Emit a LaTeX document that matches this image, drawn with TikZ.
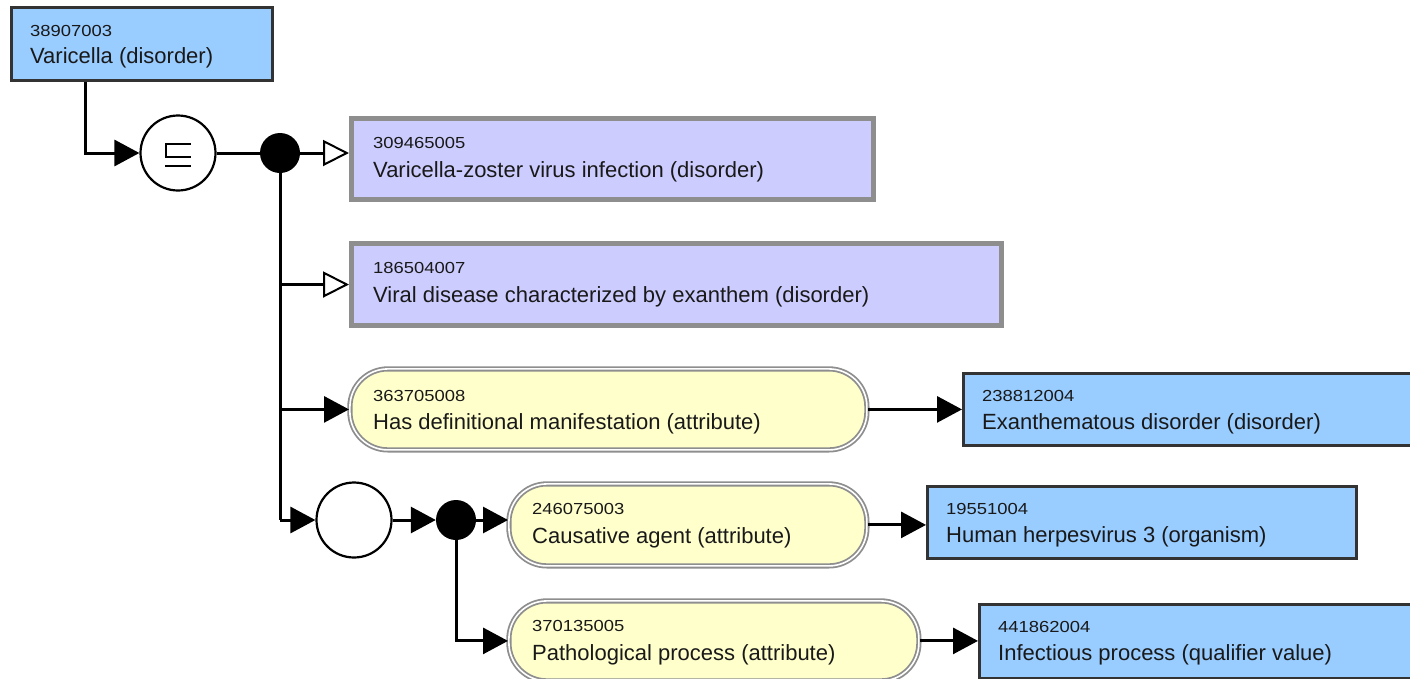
\documentclass[tikz,border=0pt]{standalone}
\usepackage{fontspec}
\setmainfont{Liberation Sans}
\newfontfamily\numfont[FakeStretch=1.15]{Liberation Sans}
\usetikzlibrary{arrows.meta,calc}
\definecolor{conceptblue}{HTML}{99CCFF}
\definecolor{primpurple}{HTML}{CCCCFF}
\definecolor{attryellow}{HTML}{FFFFCC}
\definecolor{darkborder}{HTML}{333333}
\definecolor{grayborder}{HTML}{8E8E8E}
\tikzset{
  bluebox/.style={draw=darkborder, line width=3pt, fill=conceptblue, rectangle, anchor=north west, inner sep=0pt},
  purplebox/.style={draw=grayborder, line width=5pt, fill=primpurple, rectangle, anchor=north west, inner sep=0pt},
  yellowbox/.style={draw=grayborder, double=white, double distance=1.6pt, line width=1.8pt, fill=attryellow, rectangle, rounded corners=38pt, anchor=north west, inner sep=0pt},
  opcircle/.style={draw=black, line width=2.2pt, fill=white, circle, minimum size=75pt, inner sep=0pt},
  dotnode/.style={fill=black, circle, minimum size=40pt, inner sep=0pt},
  numtext/.style={font=\numfont\fontsize{16pt}{18pt}\selectfont, anchor=base west, inner sep=0pt, text=black!90},
  nametext/.style={font=\fontsize{22pt}{26pt}\selectfont, anchor=base west, inner sep=0pt, text=black!90},
  plainline/.style={line width=3pt},
  conn/.style={line width=3pt, -{Triangle[length=25pt,width=26pt]}},
  isaconn/.style={line width=3pt, -{Triangle[open,length=26pt,width=26pt,line width=2pt,fill=white]}},
}
\newcommand\boxlabel[6]{%
  \node[numtext] (#1num) at ([shift={(#2,#3)}]#1.north west) {#5};
  \node[nametext] (#1name) at ([shift={(#2,#4)}]#1.north west) {#6};
}
\begin{document}
\begin{tikzpicture}[x=1pt,y=-1pt]
\path[use as bounding box, clip] (0,0) rectangle (1410,678);
\fill[white] (0,0) rectangle (1410,678);

% concept boxes
\node[bluebox, minimum width=261pt, minimum height=73pt] (v0) at (10,6) {};
\node[purplebox, minimum width=522pt, minimum height=81pt] (p1) at (349,116) {};
\node[purplebox, minimum width=650pt, minimum height=82pt] (p2) at (349,241) {};
\node[yellowbox, minimum width=517pt, minimum height=81pt] (y1) at (349,368) {};
\node[bluebox, minimum width=480pt, minimum height=72pt] (b1) at (962,372) {};
\node[yellowbox, minimum width=358pt, minimum height=82pt] (y2) at (508,483) {};
\node[bluebox, minimum width=429pt, minimum height=72pt] (b2) at (926,485) {};
\node[yellowbox, minimum width=410pt, minimum height=80pt] (y3) at (508,600) {};
\node[bluebox, minimum width=460pt, minimum height=74pt] (b3) at (978,603) {};

% labels
\boxlabel{v0}{20}{30}{57}{38907003}{Varicella (disorder)}
\boxlabel{p1}{24}{32}{61}{309465005}{Varicella-zoster virus infection (disorder)}
\boxlabel{p2}{24}{32}{61}{186504007}{Viral disease characterized by exanthem (disorder)}
\boxlabel{y1}{24}{33}{61}{363705008}{Has definitional manifestation (attribute)}
\boxlabel{b1}{20}{29}{57}{238812004}{Exanthematous disorder (disorder)}
\boxlabel{y2}{24}{31}{60}{246075003}{Causative agent (attribute)}
\boxlabel{b2}{20}{29}{57}{19551004}{Human herpesvirus 3 (organism)}
\boxlabel{y3}{24}{31}{60}{370135005}{Pathological process (attribute)}
\boxlabel{b3}{20}{29}{57}{441862004}{Infectious process (qualifier value)}

% operators
\node[opcircle] (sq) at (178,153) {};
\draw[line width=2.6pt] ([shift={(13,-9)}]sq.center) -- ([shift={(-12,-9)}]sq.center)
  -- ([shift={(-12,4)}]sq.center) -- ([shift={(13,4)}]sq.center);
\draw[line width=2.6pt] ([shift={(-13,13)}]sq.center) -- ([shift={(13,13)}]sq.center);
\node[dotnode] (d1) at (280,153) {};
\node[opcircle] (ec) at (354,520) {};
\node[dotnode] (d2) at (456,520) {};

% connectors
\draw[conn] ([xshift=75pt]v0.south west) |- (sq.west);
\draw[plainline] (sq.east) -- (d1.west);
\draw[isaconn] (d1.east) -- (d1.east -| p1.west);
\draw[plainline] (d1.center) -- (d1 |- ec.west);
\draw[isaconn] (d1 |- p2.west) -- (p2.west);
\draw[conn] (d1 |- y1.west) -- (y1.west);
\draw[conn] (d1 |- ec.west) -- (ec.west);
\draw[conn] (ec.east) -- (d2.west);
\draw[conn] (d2.east) -- (d2.east -| y2.west);
\draw[conn] (d2.center) |- (y3.west);
\draw[conn] (y1.east) -- (y1.east -| b1.west);
\draw[conn] (y2.east) -- (y2.east -| b2.west);
\draw[conn] (y3.east) -- (y3.east -| b3.west);
\end{tikzpicture}
\end{document}
